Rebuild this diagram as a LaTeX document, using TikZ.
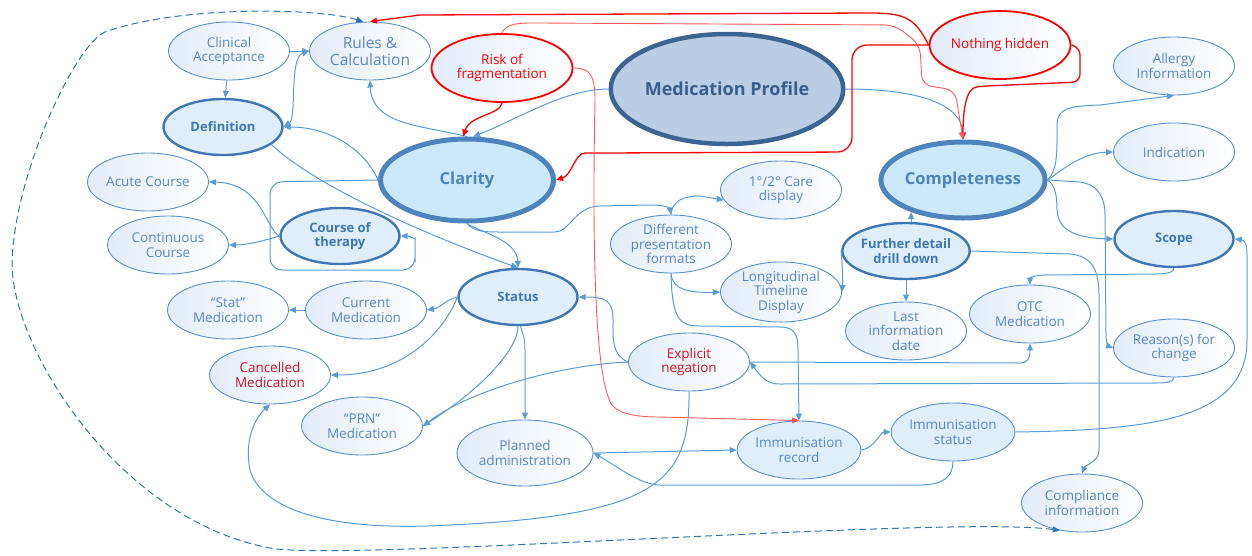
\documentclass[tikz,border=0pt]{standalone}
\usepackage{fontspec}
\setmainfont{Open Sans}
\usepackage{tikz}
\usetikzlibrary{arrows.meta, positioning, shapes.geometric}
\definecolor{myblue}{RGB}{91,143,201}
\definecolor{mytext}{RGB}{88,136,196}
\definecolor{myline}{RGB}{91,155,213}
\definecolor{mydark}{RGB}{64,118,180}
\definecolor{myshade}{RGB}{226,236,248}
\definecolor{myfill}{RGB}{222,238,251}
\definecolor{mybig}{RGB}{204,233,252}
\definecolor{mybigline}{RGB}{79,131,189}
\definecolor{myprofile}{RGB}{185,205,229}
\definecolor{myprofline}{RGB}{60,100,144}
\definecolor{myproftext}{RGB}{58,94,138}
\definecolor{myred}{RGB}{255,0,0}
\definecolor{mylightred}{RGB}{255,90,90}
\definecolor{mydarkred}{RGB}{204,20,36}
\definecolor{mydash}{RGB}{46,117,182}

\begin{document}
\begin{tikzpicture}[x=1pt,y=-1pt,
    >={Triangle[length=7pt,width=6pt]},
    every node/.style={align=center, inner sep=0pt},
    bubble/.style={ellipse, minimum width=121, minimum height=58},
    plain/.style={bubble, draw=myblue, line width=0.9pt, text=mytext,
      left color=myshade, right color=white,
      font=\fontsize{13.5}{14.5}\selectfont},
    imm/.style={bubble, draw=myblue, line width=0.9pt, text=mytext, fill=myfill,
      font=\fontsize{13.5}{14.5}\selectfont},
    key/.style={bubble, draw=mydark, line width=2.4pt, text=mydark, fill=myfill,
      minimum width=119, minimum height=56,
      font=\fontsize{13}{14.5}\selectfont\bfseries},
    big/.style={ellipse, draw=mybigline, line width=5pt, text=mybigline, fill=mybig,
      font=\fontsize{16.5}{18}\selectfont\bfseries},
    risk/.style={ellipse, draw=myred, line width=1.8pt, text=myred,
      left color=myshade, right color=white,
      minimum width=141, minimum height=68,
      font=\fontsize{13.5}{14.5}\selectfont},
    link/.style={draw=myline, line width=1pt, ->},
    redlink/.style={draw=myred, line width=1.3pt, ->},
    thinred/.style={draw=mylightred, line width=0.9pt, ->},
    dashlink/.style={draw=mydash, line width=1pt, dash pattern=on 7pt off 4pt, <->}
  ]
  \useasboundingbox (0,0) rectangle (1252,555);

  % left group
  \node[plain] (clinical) at (229,51) {Clinical\\Acceptance};
  \node[plain, font=\fontsize{15.5}{17}\selectfont] (rules) at (370,51) {Rules \&\\Calculation};
  \node[key] (definition) at (223,127) {Definition};
  \node[plain] (acute) at (148,182) {Acute Course};
  \node[plain] (continuous) at (168,245) {Continuous\\Course};
  \node[key] (course) at (340,236) {Course of\\therapy};
  \node[plain] (stat) at (228,310) {“Stat”\\Medication};
  \node[plain] (current) at (366,310) {Current\\Medication};
  \node[plain, text=mydarkred] (cancelled) at (270,375) {Cancelled\\Medication};
  \node[plain] (prn) at (362,426) {“PRN”\\Medication};

  % centre
  \node[big, minimum width=173, minimum height=82] (clarity) at (467,180) {Clarity};
  \node[key] (status) at (518,297) {Status};
  \node[risk] (fragment) at (502,68) {Risk of\\fragmentation};
  \node[ellipse, draw=myprofline, line width=4.5pt, fill=myprofile, text=myproftext,
    minimum width=228, minimum height=110,
    font=\fontsize{18}{20}\selectfont\bfseries] (profile) at (727,89) {Medication Profile};
  \node[risk] (hidden) at (1000,45) {Nothing hidden};
  \node[plain] (care) at (781,190) {1°/2° Care\\display};
  \node[plain] (formats) at (671,244) {Different\\presentation\\formats};
  \node[plain] (timeline) at (781,292) {Longitudinal\\Timeline\\Display};
  \node[plain, text=mydarkred] (negation) at (689,362) {Explicit\\negation};
  \node[plain, minimum width=136, minimum height=66] (planned) at (525,453) {Planned\\administration};
  \node[imm] (immrec) at (799,450) {Immunisation\\record};
  \node[imm] (immstat) at (953,432) {Immunisation\\status};

  % right group
  \node[big, minimum width=156, minimum height=76] (complete) at (963,180) {Completeness};
  \node[plain] (allergy) at (1174,66) {Allergy\\Information};
  \node[plain] (indication) at (1174,152) {Indication};
  \node[key] (drill) at (906,251) {Further detail\\drill down};
  \node[key] (scope) at (1174,239) {Scope};
  \node[plain] (lastdate) at (906,331) {Last\\information\\date};
  \node[plain] (otc) at (1030,314) {OTC\\Medication};
  \node[plain] (reason) at (1174,348) {Reason(s) for\\change};
  \node[plain] (compliance) at (1082,503) {Compliance\\information};

  % blue connectors
  \draw[link] (clinical) -- (definition);
  \draw[link] (clinical.east) -- (rules.west);
  \draw[link, <->] (definition.east) .. controls (297,118) and (289,58) .. (rules.west);
  \draw[link] (clarity.west) .. controls (365,150) and (330,127) .. (definition.east);
  \draw[link] (definition.-20) .. controls (320,190) and (440,240) .. (status.north);
  \draw[link] (clarity.north) .. controls (420,125) and (372,125) .. (rules.south);
  \draw[link] (profile.west) .. controls (565,89) and (520,118) .. (clarity.82);
  \draw[link] (profile.east) .. controls (920,89) and (962,105) .. (complete.north);
  \draw[link, rounded corners=12pt] (clarity.west) -- (270,182) -- (270,270) -- (415,270)
    -- (415,250) .. controls (415,240) and (410,236) .. (course.east);
  \draw[link] (course.west) .. controls (265,228) and (262,183) .. (acute.east);
  \draw[link] (course.west) .. controls (260,242) and (245,245) .. (continuous.east);
  \draw[link] (clarity.south) .. controls (480,232) and (517,240) .. (status.north);
  \draw[link] (clarity.south) .. controls (475,232) and (485,232) .. (500,232) -- (555,232)
    .. controls (570,232) and (575,206) .. (600,206) -- (650,205)
    .. controls (665,205) and (670,208) .. (formats.north);
  \draw[link] (formats.north) .. controls (672,200) and (685,196) .. (700,196) -- (care.190);
  \draw[link] (formats.south) .. controls (672,290) and (690,293) .. (timeline.west);
  \draw[link] (formats.south) .. controls (672,320) and (680,326) .. (700,326) -- (780,327)
    .. controls (795,327) and (798,335) .. (798,350) -- (immrec.north);
  \draw[link] (drill.west) .. controls (842,262) and (843,278) .. (timeline.east);
  \draw[link] (drill.80) -- (drill.80 |- complete.212);
  \draw[link] (drill) -- (lastdate);
  \draw[link] (drill.east) -- (1070,254) .. controls (1092,256) and (1099,270) .. (1099,295)
    -- (1099,450) .. controls (1099,462) and (1085,465) .. (compliance.north);
  \draw[link] (complete.east) .. controls (1058,170) and (1057,150) .. (1057,125)
    .. controls (1057,108) and (1070,106) .. (1100,105) -- (allergy.south);
  \draw[link] (complete.east) .. controls (1060,172) and (1080,153) .. (indication.west);
  \draw[link] (complete.east) .. controls (1055,185) and (1057,195) .. (1057,210)
    .. controls (1058,230) and (1075,238) .. (scope.west);
  \draw[link] (complete.east) -- (1080,182) .. controls (1100,185) and (1105,200) .. (1105,215)
    -- (1106,335) .. controls (1106,342) and (1108,346) .. (reason.west);
  \draw[link] (scope.south) .. controls (1174,272) and (1168,274) .. (1155,274) -- (1045,275)
    .. controls (1035,275) and (1030,278) .. (otc.north);
  \draw[link] (negation.east) -- (1020,363) .. controls (1028,363) and (1030,358) .. (otc.south);
  \draw[link] (reason.south) .. controls (1173,382) and (1168,383) .. (1155,383) -- (780,384)
    .. controls (765,384) and (760,375) .. (negation.east);
  \draw[link] (negation.west) .. controls (612,355) and (613,340) .. (613,320)
    .. controls (613,300) and (605,297) .. (status.east);
  \draw[link] (negation.west) .. controls (560,365) and (470,390) .. (prn.east);
  \draw[link] (status.south) .. controls (518,350) and (480,390) .. (prn.east);
  \draw[link] (status.-85) .. controls (523,335) and (525,338) .. (525,350) -- (planned.north);
  \draw[link] (status.west) .. controls (445,300) and (440,308) .. (current.east);
  \draw[link] (status.west) .. controls (445,330) and (405,375) .. (cancelled.east);
  \draw[link] (current) -- (stat);
  \draw[link] (negation.south) .. controls (690,480) and (660,515) .. (450,525)
    .. controls (330,532) and (262,510) .. (250,470)
    .. controls (244,440) and (255,418) .. (cancelled.south);
  \draw[link] (planned.east) -- (immrec.west);
  \draw[link] (immstat.south) .. controls (953,475) and (945,485) .. (920,485) -- (660,485)
    .. controls (640,485) and (615,465) .. (planned.east);
  \draw[link] (immrec.east) .. controls (875,448) and (880,432) .. (immstat.west);
  \draw[link] (immstat.east) .. controls (1150,430) and (1247,420) .. (1247,340) -- (1247,255)
    .. controls (1247,245) and (1245,240) .. (scope.east);

  % red connectors
  \draw[redlink] (fragment.south) .. controls (500,115) and (470,115) .. (clarity.95);
  \draw[redlink, rounded corners=8pt] (hidden.east) -- (1080,47) -- (1080,82) -- (985,86)
    .. controls (966,88) and (963,110) .. (complete.north);
  \draw[redlink, rounded corners=15pt] (hidden.west) -- (852,45) -- (852,152) -- (600,153)
    .. controls (575,153) and (572,175) .. (clarity.east);
  \draw[redlink] (hidden.west) .. controls (915,18) and (905,13) .. (870,13) -- (420,15)
    -- (rules.north);
  \draw[thinred, rounded corners=10pt] (fragment.north) .. controls (505,25) and (515,23) .. (540,23)
    -- (895,25) -- (920,45) -- (922,85) -- (955,90) -- (complete.north);
  \draw[thinred] (fragment.east) .. controls (590,68) and (595,75) .. (595,100)
    .. controls (592,250) and (595,380) .. (612,405)
    .. controls (620,415) and (640,417) .. (660,417) -- (immrec.north);

  % dashed loop
  \draw[dashlink] (rules.103) .. controls (320,8) and (180,5) .. (105,32)
    .. controls (75,45) and (14,175) .. (12,263)
    .. controls (12,350) and (120,520) .. (270,548)
    .. controls (345,562) and (950,515) .. (compliance.231);
\end{tikzpicture}
\end{document}
